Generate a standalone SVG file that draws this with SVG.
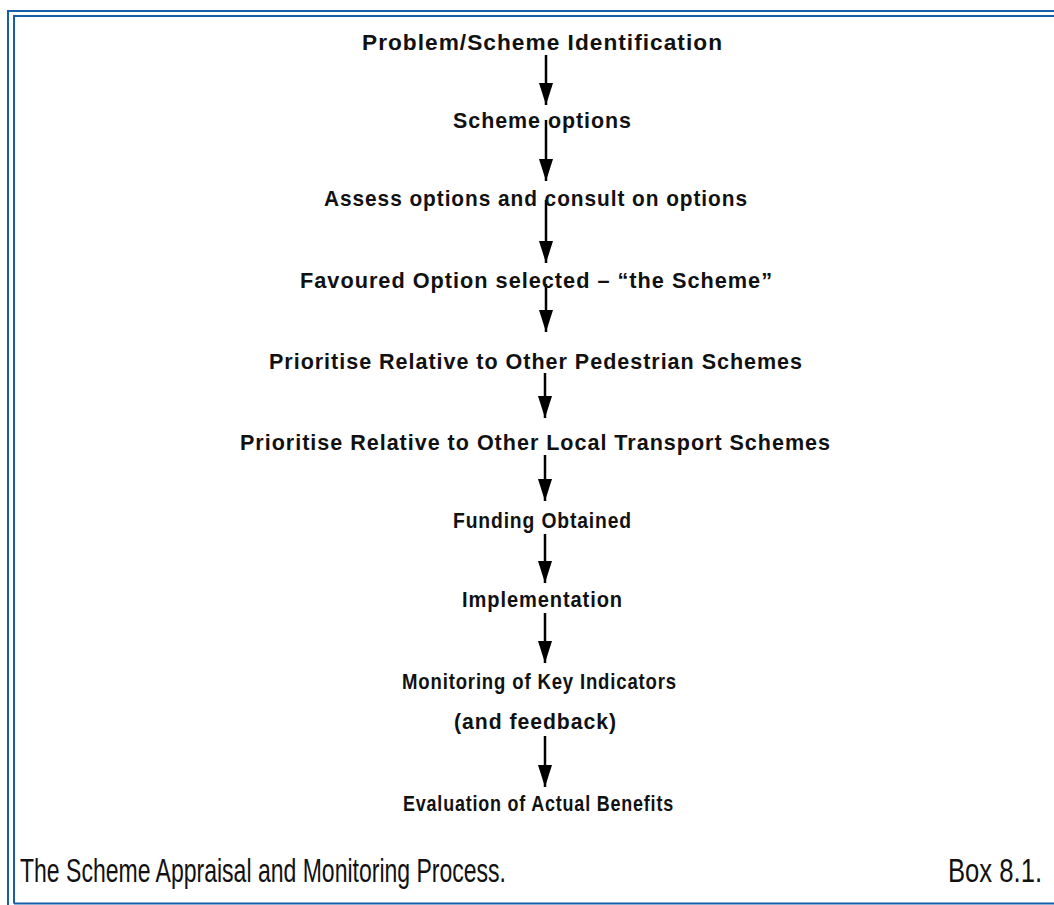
<svg xmlns="http://www.w3.org/2000/svg" width="1054" height="905" viewBox="0 0 1054 905">
  <defs>
    <marker id="ah" viewBox="0 0 22 14" refX="22" refY="7" markerWidth="22" markerHeight="14" markerUnits="userSpaceOnUse" orient="auto">
      <path d="M0,0 L22,7 L0,14 z" fill="#000"/>
    </marker>
    <style>
      .frame { stroke: #175ea8; stroke-width: 2; fill: none; }
      .step { font-family: "Liberation Sans", Arial, sans-serif; font-size: 22px; font-weight: bold; letter-spacing: 1px; fill: #111; }
      .cap { font-family: "Liberation Sans", Arial, sans-serif; font-size: 34px; font-weight: normal; fill: #111; }
      .arrow { stroke: #000; stroke-width: 2.5; fill: none; marker-end: url(#ah); }
    </style>
  </defs>
  <rect width="1054" height="905" fill="#fff"/>
  <g id="frame">
    <path class="frame" d="M8,905 V11 H1054"/>
    <path class="frame" d="M14,903.5 V16 H1054"/>
    <path class="frame" d="M14,903.5 H1054"/>
  </g>
  <g id="connectors">
    <line class="arrow" x1="546" y1="55" x2="546" y2="105"/>
    <line class="arrow" x1="546" y1="120" x2="546" y2="181"/>
    <line class="arrow" x1="546" y1="200" x2="546" y2="263"/>
    <line class="arrow" x1="546" y1="284" x2="546" y2="332"/>
    <line class="arrow" x1="545" y1="373" x2="545" y2="418"/>
    <line class="arrow" x1="545" y1="455" x2="545" y2="501"/>
    <line class="arrow" x1="545" y1="534" x2="545" y2="583"/>
    <line class="arrow" x1="545" y1="613" x2="545" y2="663"/>
    <line class="arrow" x1="545" y1="736" x2="545" y2="787"/>
  </g>
  <g id="n1"><text class="step" x="362" y="50" textLength="361" lengthAdjust="spacingAndGlyphs">Problem/Scheme Identification</text></g>
  <g id="n2"><text class="step" x="453" y="128" textLength="179" lengthAdjust="spacingAndGlyphs">Scheme options</text></g>
  <g id="n3"><text class="step" x="324" y="206" textLength="424" lengthAdjust="spacingAndGlyphs">Assess options and consult on options</text></g>
  <g id="n4"><text class="step" x="300" y="288" textLength="473" lengthAdjust="spacingAndGlyphs">Favoured Option selected – “the Scheme”</text></g>
  <g id="n5"><text class="step" x="269" y="369" textLength="534" lengthAdjust="spacingAndGlyphs">Prioritise Relative to Other Pedestrian Schemes</text></g>
  <g id="n6"><text class="step" x="240" y="450" textLength="591" lengthAdjust="spacingAndGlyphs">Prioritise Relative to Other Local Transport Schemes</text></g>
  <g id="n7"><text class="step" x="453" y="528" textLength="179" lengthAdjust="spacingAndGlyphs">Funding Obtained</text></g>
  <g id="n8"><text class="step" x="462" y="607" textLength="161" lengthAdjust="spacingAndGlyphs">Implementation</text></g>
  <g id="n9">
    <text class="step" x="402" y="689" textLength="275" lengthAdjust="spacingAndGlyphs">Monitoring of Key Indicators</text>
    <text class="step" x="454" y="729" textLength="163" lengthAdjust="spacingAndGlyphs">(and feedback)</text>
  </g>
  <g id="n10"><text class="step" x="403" y="811" textLength="271" lengthAdjust="spacingAndGlyphs">Evaluation of Actual Benefits</text></g>
  <g id="caption">
    <text class="cap" x="20" y="882" textLength="486" lengthAdjust="spacingAndGlyphs">The Scheme Appraisal and Monitoring Process.</text>
    <text class="cap" x="948" y="882" textLength="94" lengthAdjust="spacingAndGlyphs">Box 8.1.</text>
  </g>
</svg>
